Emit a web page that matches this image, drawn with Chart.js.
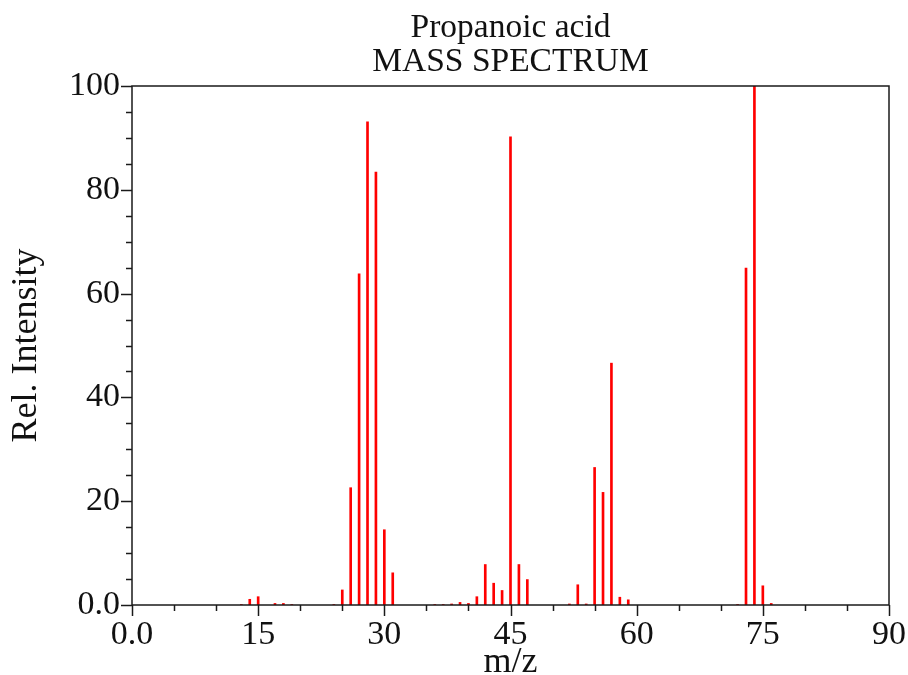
<!DOCTYPE html>
<html>
<head>
<meta charset="utf-8">
<script src="https://cdn.jsdelivr.net/npm/chart.js@4.4.1/dist/chart.umd.min.js"></script>
<style>
  html, body { margin: 0; padding: 0; background: #fff; }
  #wrap { width: 908px; height: 675px; }
</style>
</head>
<body>
<div id="wrap"><canvas id="msChart" width="908" height="675"></canvas></div>
<script>
// m/z values and relative intensities
const mzValues = [13, 14, 15, 17, 18, 19, 24, 25, 26, 27, 28, 29, 30, 31,
                  36, 37, 38, 39, 40, 41, 42, 43, 44, 45, 46, 47,
                  52, 53, 54, 55, 56, 57, 58, 59, 72, 73, 74, 75, 76];
const intensities = [0.1, 1.1, 1.6, 0.3, 0.3, 0.1, 0.1, 2.9, 22.6, 63.8, 93.1, 83.4, 14.5, 6.2,
                     0.1, 0.1, 0.2, 0.5, 0.3, 1.6, 7.8, 4.2, 2.8, 90.2, 7.8, 4.9,
                     0.2, 3.9, 0.2, 26.5, 21.7, 46.6, 1.5, 1.0, 0.1, 64.9, 100, 3.7, 0.3];
const xTickLabels = ['0.0', '15', '30', '45', '60', '75', '90'];
const yTickLabels = ['0.0', '20', '40', '60', '80', '100'];

const titleLines = ['Propanoic acid', 'MASS SPECTRUM'];
const serif = "'Liberation Serif', 'DejaVu Serif', serif";

// frame, major/minor ticks outside the box, and the title centred over the plot
const frameTicks = {
    id: 'frameTicks',
    afterDraw(chart) {
        const ctx = chart.ctx;
        const a = chart.chartArea;
        ctx.save();
        ctx.strokeStyle = '#1a1a1a';
        ctx.lineWidth = 1.5;
        ctx.strokeRect(a.left, a.top, a.right - a.left, a.bottom - a.top);

        const xs = chart.scales.x;
        xs.ticks.forEach(t => {
            const px = Math.round(xs.getPixelForValue(t.value)) + 0.5;
            const len = t.value % 15 === 0 ? 11 : 6;
            ctx.beginPath();
            ctx.moveTo(px, a.bottom);
            ctx.lineTo(px, a.bottom + len);
            ctx.stroke();
        });
        const ys = chart.scales.y;
        ys.ticks.forEach(t => {
            const py = Math.round(ys.getPixelForValue(t.value)) + 0.5;
            const len = t.value % 20 === 0 ? 11 : 6;
            ctx.beginPath();
            ctx.moveTo(a.left, py);
            ctx.lineTo(a.left - len, py);
            ctx.stroke();
        });

        ctx.fillStyle = '#111';
        ctx.font = '33.5px ' + serif;
        ctx.textAlign = 'center';
        ctx.textBaseline = 'alphabetic';
        const cx = (a.left + a.right) / 2;
        ctx.fillText(titleLines[0], cx, 37);
        ctx.fillText(titleLines[1], cx, 71);
        ctx.restore();
    }
};

const ctx = document.getElementById('msChart').getContext('2d');
new Chart(ctx, {
    type: 'bar',
    data: {
        datasets: [{
            label: 'Rel. Intensity',
            data: mzValues.map((m, i) => ({ x: m, y: intensities[i] })),
            backgroundColor: 'rgb(255, 0, 0)',
            borderWidth: 0,
            barThickness: 2
        }]
    },
    options: {
        responsive: false,
        animation: false,
        layout: { padding: { left: 0, right: 15, top: 86, bottom: 0 } },
        plugins: {
            legend: { display: false },
            tooltip: { enabled: false },
            title: { display: false }
        },
        scales: {
            x: {
                type: 'linear',
                min: 0,
                max: 90,
                offset: false,
                grid: { display: false },
                border: { display: false },
                afterFit(scale) { scale.height = 70; },
                ticks: {
                    stepSize: 5,
                    autoSkip: false,
                    maxRotation: 0,
                    padding: 2,
                    color: '#111',
                    font: { family: serif, size: 34 },
                    callback: v => (v % 15 === 0 ? xTickLabels[v / 15] : '')
                },
                title: {
                    display: true,
                    text: 'm/z',
                    color: '#111',
                    font: { family: serif, size: 36, lineHeight: 0.7 },
                    padding: { top: 0, bottom: 0 }
                }
            },
            y: {
                min: 0,
                max: 100,
                grid: { display: false },
                border: { display: false },
                afterFit(scale) { scale.width = 132; },
                ticks: {
                    stepSize: 5,
                    autoSkip: false,
                    padding: 4,
                    color: '#111',
                    font: { family: serif, size: 34 },
                    callback: v => (v % 20 === 0 ? yTickLabels[v / 20] : '')
                },
                title: {
                    display: true,
                    text: 'Rel. Intensity',
                    color: '#111',
                    font: { family: serif, size: 36, lineHeight: 1.2 },
                    padding: { top: 5, bottom: 0 }
                }
            }
        }
    },
    plugins: [frameTicks]
});
</script>
</body>
</html>
